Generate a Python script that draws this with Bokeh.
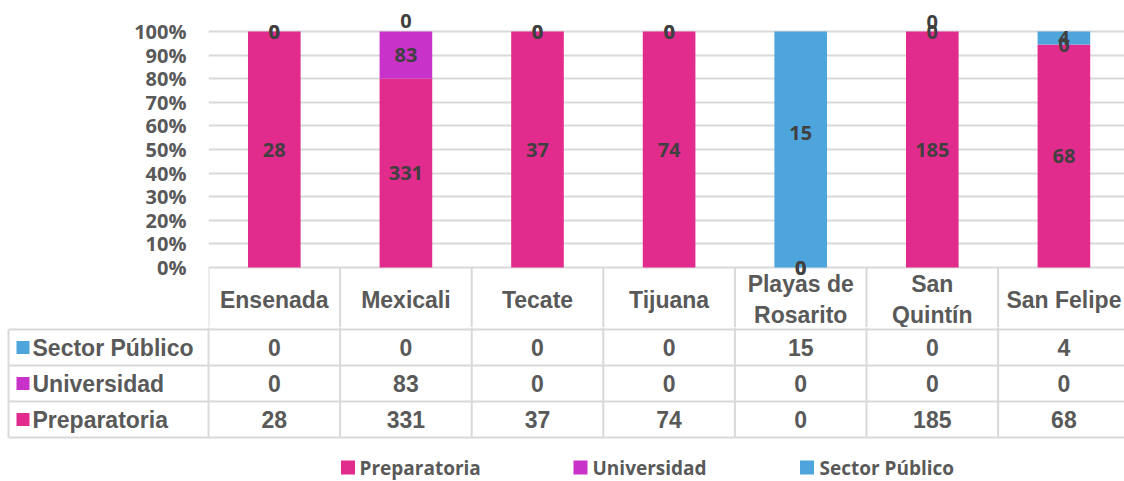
from bokeh.plotting import figure
from bokeh.models import Range1d, FixedTicker, NumeralTickFormatter, ColumnDataSource
from bokeh.core.properties import value
from bokeh.embed import file_html
from bokeh.resources import INLINE

# ---------------- data ----------------
categories = ["Ensenada", "Mexicali", "Tecate", "Tijuana", "Playas de Rosarito", "San Quintín", "San Felipe"]
header_labels = ["Ensenada", "Mexicali", "Tecate", "Tijuana", "Playas de\nRosarito", "San\nQuintín", "San Felipe"]
series_names = ["Preparatoria", "Universidad", "Sector Público"]
preparatoria = [28, 331, 37, 74, 0, 185, 68]
universidad = [0, 83, 0, 0, 0, 0, 0]
sector_publico = [0, 0, 0, 0, 15, 0, 4]
y_ticks = [0.0, 0.1, 0.2, 0.3, 0.4, 0.5, 0.6, 0.7, 0.8, 0.9, 1.0]

# ---------------- styles / layout ----------------
colors = ["#E22C8D", "#C832C8", "#4EA5DB"]
GRID = "#D9D9D9"
TXT = "#595959"
LBL = "#404040"
W = 1124
H = 481
COL_PX = 131.6          # width of one category column, px
FRAME_LEFT = 208        # x where bar area starts
H1 = 327                # height of top figure (bars + table header row)
ZERO_PX = 267           # y of 0%
UNIT_PX = 236           # px for 100%
H2 = H - H1             # table rows + legend figure height
LEG_Y = 467

# nudges (px, upward) for overlapping data labels, like Excel's
label_nudge = {("Sector Público", "Mexicali"): 11,
               ("Sector Público", "Playas de Rosarito"): 17,
               ("Sector Público", "San Quintín"): 10}

values = [preparatoria, universidad, sector_publico]
n = len(categories)
xs = [i + 0.5 for i in range(n)]
totals = [sum(v[i] for v in values) for i in range(n)]
fracs = [[v[i] / totals[i] if totals[i] else 0 for i in range(n)] for v in values]

keys = ["prep", "univ", "sect"]
src = ColumnDataSource(dict(x=xs, **{k: f for k, f in zip(keys, fracs)}))


def px_to_x(px):
    return (px - FRAME_LEFT) / COL_PX


def py_to_y(py):
    return (ZERO_PX - py) / UNIT_PX


tfont = dict(text_font=value("Liberation Sans"), text_font_style="bold", text_font_size="23px",
             text_color=TXT, text_baseline="middle")

# ---------------- top figure: stacked 100% bars + table header ----------------
x_end = (W - FRAME_LEFT) / COL_PX
y_end = py_to_y(0)
y_start = py_to_y(H1)
p1 = figure(width=W, height=H1, x_range=Range1d(0, x_end), y_range=Range1d(y_start, y_end),
            toolbar_location=None, output_backend="svg", x_axis_location=None,
            min_border_left=FRAME_LEFT, min_border_right=0, min_border_top=0, min_border_bottom=0)
p1.outline_line_color = None
p1.xgrid.visible = False
ticker = FixedTicker(ticks=y_ticks)
p1.ygrid.ticker = ticker
p1.ygrid.grid_line_color = GRID
p1.ygrid.grid_line_width = 2
ax = p1.yaxis[0]
ax.ticker = ticker
ax.formatter = NumeralTickFormatter(format="0%")
ax.axis_line_color = None
ax.major_tick_line_color = None
ax.minor_tick_line_color = None
ax.major_tick_out = 0
ax.major_tick_in = 0
ax.major_label_standoff = 22
ax.major_label_text_font = "Open Sans"
ax.major_label_text_font_style = "bold"
ax.major_label_text_font_size = "20px"
ax.major_label_text_color = TXT

bounds = list(range(n + 1))
# table header cell borders (top border = 0% grid line)
p1.segment(x0=bounds, y0=[0] * len(bounds), x1=bounds, y1=[y_start] * len(bounds),
           line_color=GRID, line_width=2)

p1.vbar_stack(keys, x="x", width=0.4, color=colors, line_color=None, source=src)

# data labels at segment centres
lx, ly, lt, lo = [], [], [], []
for i in range(n):
    base = 0.0
    for s, name in enumerate(series_names):
        f = fracs[s][i]
        lx.append(xs[i])
        ly.append(base + f / 2)
        lt.append(str(values[s][i]))
        lo.append(-label_nudge.get((name, categories[i]), 0))
        base += f
p1.text(x=lx, y=ly, text=lt, y_offset=lo, text_align="center", text_baseline="middle",
        text_font=value("Open Sans"), text_font_style="bold", text_font_size="20px", text_color=LBL)

# table header: category names
p1.text(x=xs, y=[py_to_y(299)] * n, text=header_labels, text_align="center",
        text_line_height=1.2, **tfont)

# ---------------- bottom figure: table rows + legend ----------------
p2 = figure(width=W, height=H2, x_range=Range1d(px_to_x(0), px_to_x(W)),
            y_range=Range1d(H, H1), toolbar_location=None, output_backend="svg",
            x_axis_location=None, y_axis_location=None,
            min_border_left=0, min_border_right=0, min_border_top=0, min_border_bottom=0)
p2.outline_line_color = None
p2.grid.visible = False

row_lines = [329, 365, 401, 437]
left_x = px_to_x(8)
right_x = px_to_x(W)
p2.segment(x0=[left_x] * 4, y0=row_lines, x1=[right_x] * 4, y1=row_lines, line_color=GRID, line_width=2)
p2.segment(x0=bounds, y0=[H1] * len(bounds), x1=bounds, y1=[437] * len(bounds),
           line_color=GRID, line_width=2)
p2.segment(x0=[left_x], y0=[329], x1=[left_x], y1=[437], line_color=GRID, line_width=2)

row_order = [2, 1, 0]          # Sector Público, Universidad, Preparatoria
row_y = [347, 383, 419]
p2.scatter(x=[px_to_x(22.5)] * 3, y=row_y, marker="square", size=13,
           color=[colors[s] for s in row_order], line_color=None)
p2.text(x=[px_to_x(32)] * 3, y=row_y, text=[series_names[s] for s in row_order],
        text_align="left", **tfont)
cx, cy, ct = [], [], []
for r, s in enumerate(row_order):
    for i in range(n):
        cx.append(xs[i]); cy.append(row_y[r]); ct.append(str(values[s][i]))
p2.text(x=cx, y=cy, text=ct, text_align="center", **tfont)

# legend
leg_sq = [347.5, 580, 806.5]
leg_tx = [359, 592, 819]
p2.scatter(x=[px_to_x(v) for v in leg_sq], y=[LEG_Y] * 3, marker="square", size=14,
           color=colors, line_color=None)
p2.text(x=[px_to_x(v) for v in leg_tx], y=[LEG_Y] * 3, text=series_names, text_align="left",
        text_baseline="middle", text_font=value("Open Sans"), text_font_style="bold",
        text_font_size="19px", text_color=TXT)

open("out.html", "w").write(file_html([p1, p2], INLINE))
